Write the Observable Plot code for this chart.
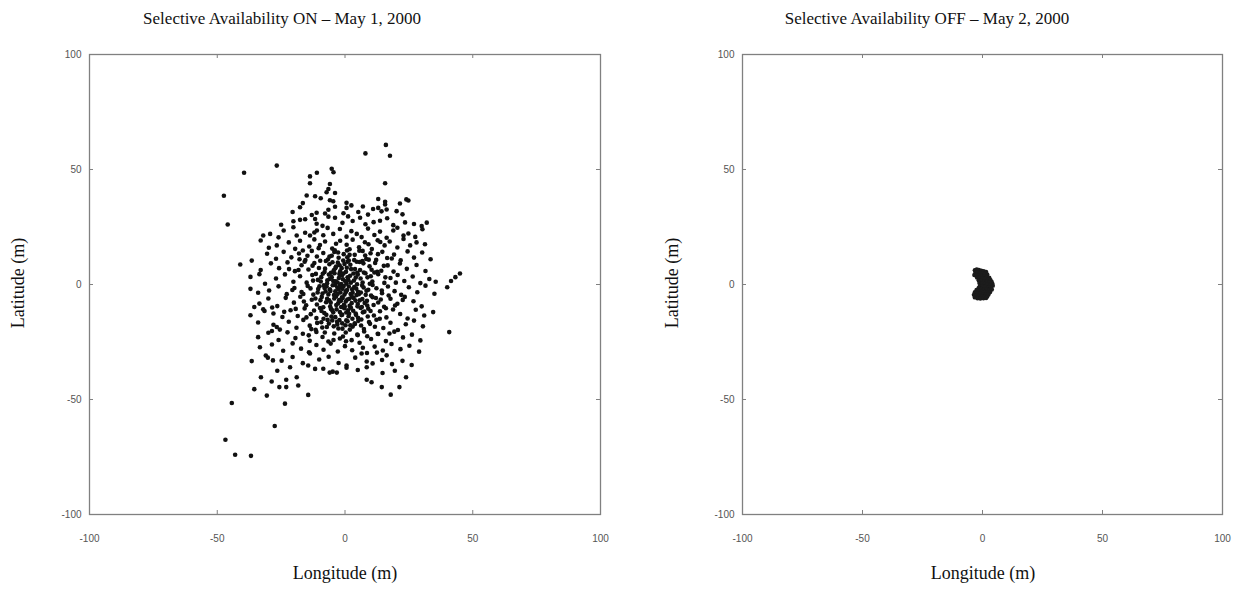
<!DOCTYPE html>
<html><head><meta charset="utf-8">
<script src="https://cdn.jsdelivr.net/npm/d3@7"></script>
<script src="https://cdn.jsdelivr.net/npm/@observablehq/plot@0.6"></script>
<style>
body{margin:0;background:#fff}
#wrap{position:relative;width:1243px;height:592px;overflow:hidden;background:#fff}
.t{position:absolute;font-family:"Liberation Serif","Times New Roman",serif;color:#111;white-space:nowrap;line-height:1}
svg{position:absolute;top:0}
</style>
</head><body><div id="wrap"></div>
<script>
// ---- data ----
const titles = ["Selective Availability ON \u2013 May 1, 2000", "Selective Availability OFF \u2013 May 2, 2000"];
const xLabel = "Longitude (m)";
const yLabel = "Latitude (m)";
const tickValues = [-100, -50, 0, 50, 100];
const innerTicks = [-50, 0, 50];

// SA ON: [longitude, latitude] in metres
const saOnPoints = [
[16,60.7],[8,57],[17.6,56],[-26.7,51.7],[-39.5,48.6],[-13.7,47],[-11,48.6],[-5.2,50.3],[-4.5,48.8],[15.7,44],[-13.7,44],[-5.9,43.7],[-47.4,38.6],[-45.9,26.1],
[-16.5,35.4],[-15,38.7],[-11.7,38.4],[-9.5,37.5],[-7.2,40.1],[-5.9,36.6],[-3.9,39.8],[-4.6,36.2],[0.6,35.5],[13,37.2],[15.7,36],[24,37],[24.8,36.5],[21.5,35.2],[-6.5,41.5],
[-17.6,33.6],[-11.1,31.2],[-7.8,30.9],[-6.5,32.5],[-3.9,33.8],[-0.6,31],[0.6,33.3],[5.2,31.5],[9,30.4],[13,33.3],[14.3,31.8],[16.3,32.6],[15.7,34.8],[20.2,31.9],[22.5,30.5],[-13,30.2],[2.5,34.4],[11,32.8],[-20.5,31.5],[7,33.9],
[-20.2,27.5],[-17.6,28.1],[-15.6,28.4],[-11.7,28.5],[-11.1,26.4],[-6.5,29.5],[-3.9,29],[-1,26.8],[3,27.6],[5.9,29],[8,26.2],[11.2,27.1],[13.7,27.7],[18.9,25.8],[23.5,27],[27,26.3],[30,25.4],[32,26.9],[-25,26],[-8.8,25.5],[1.2,29.6],[16.5,28.8],
[-32,21.3],[-29.3,22],[-20.2,24.9],[-18.9,21.3],[-15.6,22.5],[-13.7,21.3],[-11,23.5],[-8.5,21.4],[-4.6,22],[-2,24.1],[0.6,20.8],[2.5,23.2],[4.6,22],[6.5,20.6],[9,24.3],[11.5,21.5],[13.7,23],[16.3,20.3],[18.9,23.5],[22.9,21.3],[24.8,22.2],[27.5,20.7],[30.3,24],[-24,23.5],[-26,20.5],[-6.8,24.6],[20.5,24.7],
[-33,19.1],[-29.8,16],[-26.7,17],[-22,18.3],[-17.6,19],[-14,16.5],[-12,19.6],[-9.8,17.2],[-7.8,18.7],[-5,15.6],[-1.9,19],[0.65,17.3],[3,19.5],[5.5,16.2],[7.8,18.4],[10.5,15.4],[12.8,19.2],[15.5,17],[17.5,18.7],[20.5,16.1],[22.9,19.8],[25.5,17],[28,18.3],[31.3,17.5],[-19.5,15.5],[-3.5,17.7],[1.8,15.3],[9.2,17.5],
[-36.5,10.4],[-30.5,13.4],[-27,11.2],[-24,14.2],[-21,11.8],[-18,13.5],[-15.5,10.6],[-13,14.6],[-11,12.2],[-8.5,13.7],[-6.7,10.9],[-4.2,14.1],[-2.5,11.6],[-0.5,13.2],[1.5,10.4],[3.8,12.9],[5.6,14.7],[8.3,11.1],[10,13.6],[12.2,10.7],[14.6,14.2],[16.5,11.5],[19.2,13],[21.8,10.5],[24.5,14.4],[27,11.7],[30.2,13.9],[33.5,11],[-16.5,14.8],[6.8,10.2],[-9.7,10.3],[0.8,14.8],[-5.2,12.5],
[-41,8.7],[-33,6.3],[-29,9.2],[-25.8,7.1],[-22.5,9.6],[-19.6,5.8],[-17,8.4],[-14.3,6.5],[-12,9.3],[-10.2,7.2],[-8,5.4],[-6.1,8.8],[-4.4,6.2],[-2.8,9.5],[-1.3,7.1],[0.4,5.5],[2.1,8.6],[3.9,6.7],[5.7,9.8],[7.4,5.2],[9.6,7.9],[11.8,9.4],[14.2,6],[16.7,8.3],[19,5.6],[21.5,9.1],[24.2,6.8],[28,8.5],[31.5,5.9],[-5.5,5.1],[1,9.9],[4.8,5.1],[-15.8,9.9],[12.6,5.5],[-3.5,7.8],[-0.2,8.9],
[-37,3.3],[-31.3,0.3],[-27,2.6],[-23.5,4.4],[-20.2,1.2],[-17.6,3.6],[-15,0.8],[-12.8,4.1],[-10.6,2],[-8.7,4.7],[-7,0.5],[-5.2,3.2],[-3.6,1.4],[-2.2,4.6],[-0.8,2.3],[0.6,0.4],[2,3.8],[3.5,1.7],[5,4.3],[6.9,0.9],[8.8,3.1],[10.7,1.3],[13,4.5],[15.4,0.7],[17.8,2.8],[20.6,4.1],[23.2,1.5],[26.5,3.5],[29.5,0.6],[33,2.4],[45,4.8],[43.2,3.2],[41.5,1.5],[-6,2.4],[-1.5,0.2],[1.3,2],[-4.1,4.9],[-9.5,1.3],[4.2,3],[-2.9,0.9],[-33.5,4.5],[35.5,1.2],
[-37,-1.9],[-34,-3.6],[-29.7,-2.6],[-26,-0.8],[-22.8,-4.2],[-19.8,-1.5],[-17,-3.3],[-14.6,-0.6],[-12.4,-4.4],[-10.5,-2],[-8.8,-3.9],[-7.2,-0.9],[-5.7,-2.8],[-4.3,-4.6],[-3,-1.3],[-1.8,-3.5],[-0.5,-0.7],[0.8,-2.4],[2.2,-4.1],[3.6,-1.1],[5.1,-3.2],[6.7,-0.4],[8.4,-2.7],[10.2,-4.8],[12.3,-1.6],[14.5,-3.8],[16.8,-0.9],[19.4,-2.9],[22,-4.5],[25,-1.2],[28.3,-3.4],[31.5,-0.5],[35,-4],[40,-1.2],[-4.8,-0.3],[-2.5,-2.2],[-0.2,-4.4],[1.5,-0.9],[-6.5,-4.3],[-3.8,-3],[-1,-1.9],[0.3,-3.3],[-2,-0.5],[2.8,-2.1],[-8,-1.5],[4.5,-4.6],
[-33.5,-8.3],[-30,-6.1],[-26.5,-9.4],[-23.2,-5.8],[-20,-7.9],[-17.5,-5.3],[-15.2,-9],[-13,-6.6],[-11,-8.7],[-9.1,-5.4],[-7.4,-7.7],[-5.8,-9.6],[-4.2,-6.1],[-2.7,-8.2],[-1.2,-5.6],[0.3,-7.4],[1.8,-9.3],[3.4,-5.9],[5,-8.5],[6.8,-6.3],[8.7,-9.1],[10.8,-5.5],[13,-7.8],[15.3,-9.7],[17.8,-6.2],[20.5,-8.4],[23.4,-5.4],[26.8,-7.3],[30,-9.5],[34.5,-12],[-3.5,-5.2],[-1.5,-9.8],[0.9,-6.5],[2.6,-8.1],[-6.2,-6.9],[-8.5,-9.9],[4.1,-7],[-0.4,-8.8],[-2.3,-6.8],[7.7,-8],[-28.5,-10],[-31.5,-11.5],[-35.5,-9.8],
[-37,-13.4],[-32,-10.8],[-28,-12.6],[-24.5,-14.1],[-21.3,-11.2],[-18.5,-13.7],[-15.8,-10.4],[-13.4,-12.9],[-11.2,-14.6],[-9.2,-11.5],[-7.3,-13.2],[-5.5,-10.6],[-3.8,-14.2],[-2,-12],[-0.3,-10.3],[1.4,-13.8],[3.2,-11.4],[5.1,-14.5],[7,-12.1],[9.1,-10.5],[11.3,-13.5],[13.7,-11.6],[16.2,-14.3],[18.8,-10.9],[21.6,-12.8],[24.5,-14.8],[27.7,-11],[31,-13.5],[2.3,-10.1],[4.2,-12.6],[6.1,-10.2],[-1.1,-13.1],[-4.6,-12.1],[-8.4,-14.9],[0.5,-12.2],
[-34,-16.5],[-28,-17.5],[-25.5,-19.6],[-22,-16.2],[-19,-18.8],[-16.3,-15.4],[-13.8,-17.9],[-11.5,-19.7],[-9.3,-16.4],[-7.1,-18.5],[-5,-15.6],[-3,-17.4],[-1,-19.2],[1,-16],[3,-18.3],[5.2,-15.8],[7.4,-19.4],[9.8,-17.1],[12.3,-15.3],[15,-18.9],[17.8,-16.6],[20.7,-19.8],[23.8,-17.3],[27,-15.7],[30.5,-18.2],[40.8,-20.7],[3.8,-16.9],[6.3,-17.8],[1.9,-19.6],[-2.2,-15.5],[-6.3,-17],[0.2,-17.7],[-26.7,-18.5],
[-34,-22.9],[-30,-21],[-26,-24.1],[-22.5,-20.8],[-19.4,-23.3],[-16.5,-21.4],[-13.8,-24.5],[-11.2,-20.6],[-8.8,-22.8],[-6.5,-24.8],[-4.2,-21.3],[-2,-23.5],[0.3,-20.9],[2.6,-24.2],[5,-22],[7.5,-20.4],[10.2,-23.7],[13,-21.5],[16,-24.6],[19.3,-20.5],[22.7,-23],[26.2,-21.8],[29.5,-24.3],[-28.6,-20.2],[8.7,-22.5],[-0.8,-22.6],
[-33.3,-27.3],[-28.6,-26.1],[-24.2,-28.8],[-20.5,-25.6],[-17.2,-27.9],[-14.1,-29.5],[-11.2,-26.3],[-8.4,-28.4],[-5.6,-25.7],[-2.8,-29.1],[0,-26.8],[2.8,-28.6],[5.7,-25.3],[8.6,-29.8],[11.6,-27],[14.8,-28.7],[18.2,-25.9],[21.7,-28.1],[25.2,-26.6],[29,-29.2],[7,-27.5],[12.5,-29.6],
[-36.5,-33.3],[-31,-30.9],[-30.2,-31.8],[-28.2,-33],[-24.8,-33.1],[-20.5,-31.5],[-16.5,-34.2],[-13.7,-30],[-14.4,-35.2],[-10.1,-32.6],[-6.4,-31.4],[-2.5,-34.1],[0.6,-35.2],[4,-31.8],[6.5,-30],[8.5,-33.5],[10.8,-34.3],[14.5,-32.8],[18.4,-34.6],[22.5,-33.2],[26.1,-35],[16.3,-30.8],
[-32.9,-40.3],[-21.5,-36],[-11.7,-36.7],[-8.5,-36.6],[-6,-38.3],[-4.8,-37.9],[-3.2,-38.3],[0.6,-36.2],[5,-37.2],[8.5,-36],[14.7,-38.5],[19.5,-37.5],[23.9,-40.3],[-18.9,-40.3],[-26.5,-37.5],
[-28.7,-42.2],[-25.7,-44.6],[-23,-41.4],[-23,-44.6],[-18.3,-43.9],[8.5,-41.4],[10.4,-42.5],[14.4,-44.6],[21.3,-44.6],
[-30.6,-48.3],[-14.4,-48],[17.9,-47.9],[-35.5,-45.5],
[-44.3,-51.5],[-23.5,-51.8],[-46.8,-67.5],[-43,-74],[-36.8,-74.5],[-27.5,-61.5],
[-9.3,3.2],[-7.8,6.9],[-5.6,-7.9],[-3.3,-10.8],[-1.9,5.7],[-0.9,-5.9],[0.9,11.8],[2.9,-14.9],[4.4,-1.8],[6.1,2.6],[7.6,-11.8],[9.1,-2.3],[10.4,6.4],[11.7,-18.4],[-10.9,-16.7],[-8.1,-12.4],[-6.9,1.8],[-4.9,9.7],[-3.1,-16.2],[-1.6,-7.1],[0.1,1.4],[1.7,-6.2],[3.3,4.8],[4.9,-9.5],[6.4,-15.2],[8.1,-4.5],[9.7,0.3],[11.2,-8.9],[-11.6,-6.1],[-9.8,-10.2],[-7.6,-3],[-5.3,-13.9],[-3.8,7.1],[-2.6,-19.1],[-1.2,3.9],[0.5,-15.6],[2.4,6.7],[3.9,-17.2],[5.8,-6.9],[7.2,9.2],[8.9,-13.9],[10.1,3.6],[-12.5,1.7],[-10,-0.8],[-7,-6.2],[-4.4,-18.2],[-2.4,2.8],[-0.7,10.4],[1.2,-11.2],[3,-3.6],[4.6,9.9],[6.2,-3.5],[7.9,12.6],[9.4,-16.3],[-8.9,-18.7],[-6.1,12.1],[-3.9,-0.2],[-1.4,-13.3],[0.7,7.3],[2.1,-17.7],[14,-6.5],[12.8,-21.4],[-14.2,-22.1],[-12.7,8.2],[15.8,3.1],[-16.3,-4.1],
[-18.2,6.3],[-16.1,-7.4],[-14.7,12.5],[-13.5,-1.7],[-12.1,-11.3],[-11.4,4.6],[-10.3,15.8],[-9.6,-6.8],[-8.3,-0.4],[-7.5,10.2],[-6.8,-15.4],[-6.3,4.3],[-5.9,-2.1],[-5.1,-11.1],[-4.6,1.5],[-4,14.9],[-3.4,-8.9],[-2.9,-4.1],[-2.1,8.4],[-1.7,-1.1],[-1.1,-16.9],[-0.6,4.8],[-0.1,-9.6],[0.4,-2.9],[1,3.1],[1.6,-12.7],[2.3,0.8],[2.7,-5.3],[3.6,10.6],[4.3,-13.2],[4.7,0.1],[5.4,-4.2],[5.9,6.3],[6.6,-9.8],[7.3,-1.3],[8,4.9],[8.6,-7.1],[9.3,10.8],[10,-11.5],[10.8,-0.2],[11.5,5.2],[12.1,-5.9],[12.9,13.2],[13.6,-14.9],[14.4,-2.6],[15.2,8.1],[16,-10.3],[17.1,-4.8],[18.3,11.3],[19.6,-9.1],[-19.3,-10.6],[-17.8,11],[-20.6,-2.4],[-21.9,6.7],[-15.1,-14.3],[-13.2,-19.4],[17.4,-21.3],[19.9,0.8],[-23.8,-11.9],[22.6,-6.7],[-7.9,-20.9],[4.8,-21.8],[-2.7,13.9],[1.8,12.9],[-10.7,-3.5],[6.9,14.6],[-4.5,-24.1],[0.4,-24.7],[13.8,18.5],[-12,22.6]
];

// SA OFF: [longitude, latitude] in metres
const saOffPoints = [
[-3.2,6.2],[-2.4,6.5],[-1.5,6.3],[-0.5,6],[0.5,5.8],[1.5,5.5],[-3,5],[-2,5.3],[-1,5],[0,4.8],[1,4.6],[2,4.4],[-3.4,4.1],[-2.5,4],[-1.4,3.9],[-0.3,3.7],[0.8,3.6],[1.9,3.3],[2.8,3],
[-2.3,3],[-1.2,2.8],[0,2.6],[1.2,2.5],[2.4,2.2],[3.3,2],[3.8,1.2],[-1.6,1.8],[-0.5,1.6],[0.7,1.4],[1.8,1.3],[2.9,0.9],[4.1,0.4],[4.3,-0.5],
[-1.3,0.7],[-0.2,0.5],[1,0.2],[2.1,-0.1],[3.2,-0.4],[-1.1,-0.6],[0,-0.8],[1.2,-1],[2.4,-1.2],[3.6,-1.5],[-1.6,-1.5],[-0.6,-1.9],[0.6,-2],[1.7,-2.3],[2.9,-2.4],[3.9,-2.2],
[-2.5,-2.4],[-1.4,-2.8],[-0.2,-3],[1,-3.2],[2.2,-3.4],[3.2,-3.3],[-3.2,-3.4],[-2.2,-3.8],[-1,-4],[0.2,-4.2],[1.4,-4.4],[2.5,-4.3],[-3.6,-4.5],[-2.6,-4.9],[-1.5,-5.1],[-0.3,-5.3],[0.9,-5.4],[2,-5.2],[-3.2,-5.6],[-2.1,-6],[-0.9,-6.1],[0.4,-6],[1.5,-5.9]
];

// ---- layout ----
const H = 592, TOP = 54, BOTTOM = 78;
const panels = [
  {left: 0, width: 620, mLeft: 89, mRight: 20, pts: saOnPoints, title: titles[0], r: 2.3, fill: "#111", titleX: 282, yLabX: 18, xLabX: 345},
  {left: 620, width: 623, mLeft: 122, mRight: 21, pts: saOffPoints, title: titles[1], r: 2.2, fill: "#1c1c1c", titleX: 927, yLabX: 672, xLabX: 983}
];
const wrap = document.getElementById("wrap");
const grey = "#808080";
const tickFont = "Liberation Sans, Arial, sans-serif";

function addText(txt, x, y, size, rotate) {
  const d = document.createElement("div");
  d.className = "t";
  d.textContent = txt;
  d.style.left = x + "px";
  d.style.top = y + "px";
  d.style.fontSize = size + "px";
  d.style.transform = "translate(-50%,-50%)" + (rotate ? " rotate(-90deg)" : "");
  wrap.appendChild(d);
}

for (const p of panels) {
  const innerW = p.width - p.mLeft - p.mRight;
  const innerH = H - TOP - BOTTOM;
  const chart = Plot.plot({
    width: p.width, height: H,
    marginLeft: p.mLeft, marginRight: p.mRight, marginTop: TOP, marginBottom: BOTTOM,
    style: {background: "transparent", fontFamily: tickFont},
    x: {domain: [-100, 100]},
    y: {domain: [-100, 100]},
    marks: [
      Plot.dot(p.pts, {x: d => d[0], y: d => d[1], r: p.r, fill: p.fill, stroke: "none"}),
      Plot.tickX(innerTicks, {x: d => d, insetTop: innerH - 4, stroke: grey}),
      Plot.tickX(innerTicks, {x: d => d, insetBottom: innerH - 4, stroke: grey}),
      Plot.tickY(innerTicks, {y: d => d, insetRight: innerW - 4, stroke: grey}),
      Plot.tickY(innerTicks, {y: d => d, insetLeft: innerW - 4, stroke: grey}),
      Plot.frame({stroke: grey, strokeWidth: 1.3}),
      Plot.axisX(tickValues, {anchor: "bottom", tickSize: 0, tickPadding: 20, fontSize: 10, fill: "#555", label: null, tickFormat: d => String(d)}),
      Plot.axisY(tickValues, {anchor: "left", tickSize: 0, tickPadding: 8, fontSize: 10, fill: "#555", label: null, tickFormat: d => String(d)})
    ]
  });
  chart.style.left = p.left + "px";
  wrap.appendChild(chart);
  addText(p.title, p.titleX, 18, 17, false);
  addText(yLabel, p.yLabX, 283, 18, true);
  addText(xLabel, p.xLabX, 573, 18, false);
}
</script>
</body></html>
